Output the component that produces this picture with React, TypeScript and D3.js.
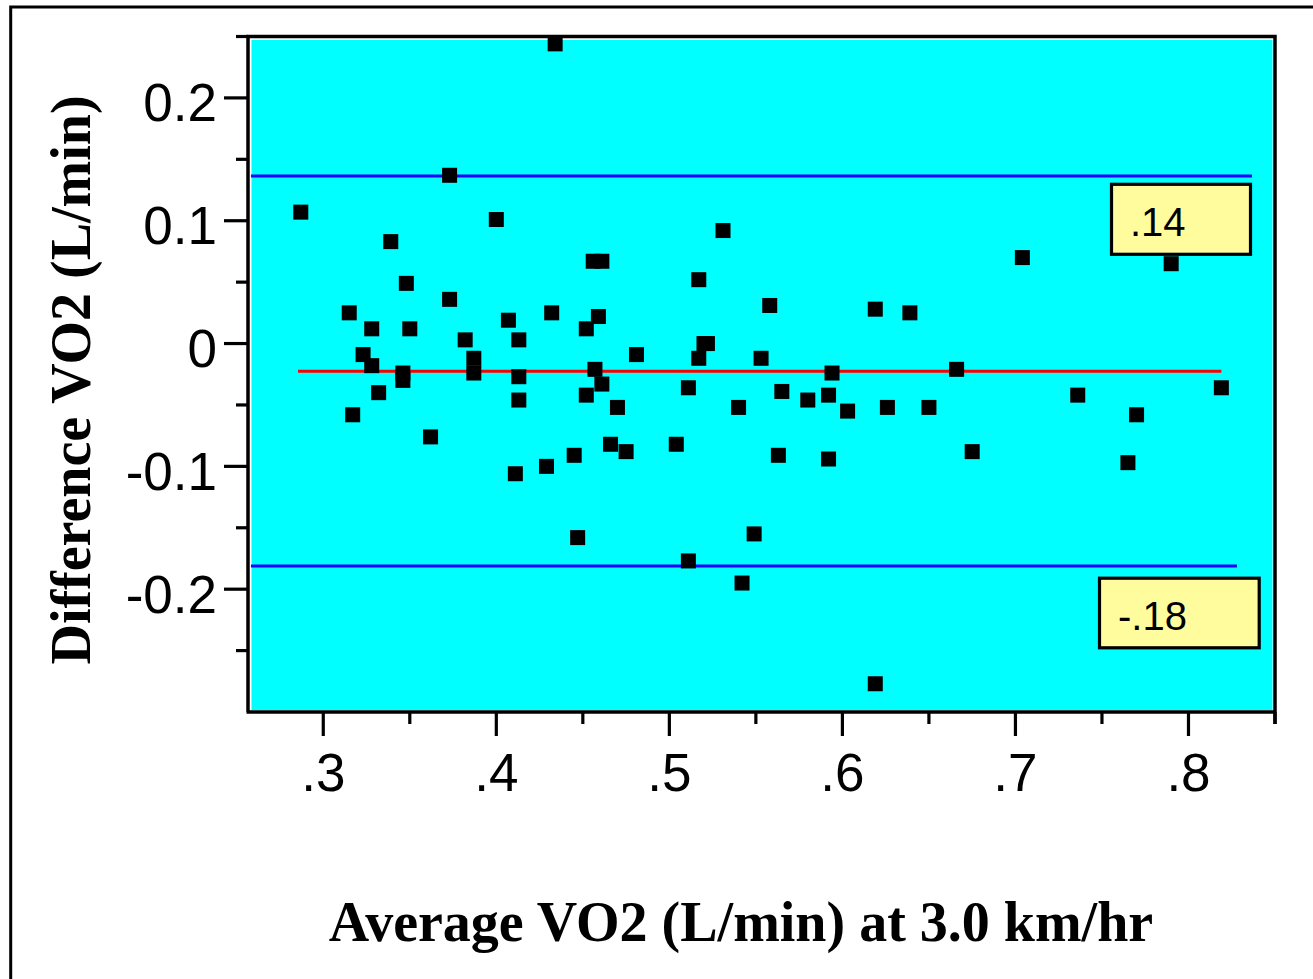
import * as d3 from 'd3';

// Bland-Altman style data
const avgVO2 = [
  0.287, 0.434, 0.373, 0.400, 0.339, 0.456, 0.461, 0.348, 0.373, 0.315,
  0.407, 0.432, 0.459, 0.328, 0.350, 0.452, 0.382, 0.413, 0.481, 0.323,
  0.328, 0.387, 0.387, 0.346, 0.346, 0.332, 0.317, 0.362, 0.411, 0.429,
  0.445, 0.447, 0.452, 0.461, 0.457, 0.470, 0.466, 0.475, 0.504, 0.413,
  0.413, 0.558, 0.619, 0.639, 0.520, 0.522, 0.517, 0.553, 0.594, 0.666,
  0.511, 0.540, 0.565, 0.580, 0.592, 0.603, 0.626, 0.650, 0.563, 0.592,
  0.675, 0.549, 0.511, 0.542, 0.619, 0.531, 0.517, 0.704, 0.790, 0.736,
  0.770, 0.765, 0.819,
];
const diffVO2 = [
  0.107, 0.244, 0.137, 0.101, 0.083, 0.067, 0.067, 0.049, 0.036, 0.025,
  0.019, 0.025, 0.022, 0.012, 0.012, 0.012, 0.003, 0.003, -0.009, -0.009,
  -0.018, -0.012, -0.024, -0.024, -0.030, -0.040, -0.058, -0.076, -0.106, -0.100,
  -0.091, -0.158, -0.042, -0.033, -0.021, -0.052, -0.082, -0.088, -0.082, -0.027,
  -0.046, 0.031, 0.028, 0.025, 0.000, 0.000, -0.012, -0.012, -0.024, -0.021,
  -0.036, -0.052, -0.039, -0.046, -0.042, -0.055, -0.052, -0.052, -0.091, -0.094,
  -0.088, -0.155, -0.177, -0.195, -0.277, 0.092, 0.052, 0.070, 0.065, -0.042,
  -0.058, -0.097, -0.036,
];

const meanDiff = -0.0225;
const upperLimit = 0.1364;
const lowerLimit = -0.1812;
const meanSpan = [0.2854, 0.819];
const upperSpan = [0.2582, 0.8367];
const lowerSpan = [0.2582, 0.828];
const upperLabel = '.14';
const lowerLabel = '-.18';

const yMajor = [0.2, 0.1, 0, -0.1, -0.2];
const yMinor = [0.25, 0.15, 0.05, -0.05, -0.15, -0.25];
const xMajor = [0.3, 0.4, 0.5, 0.6, 0.7, 0.8];
const xMinor = [0.35, 0.45, 0.55, 0.65, 0.75, 0.85];

const W = 1313;
const H = 979;
const sans = '"Liberation Sans", Arial, sans-serif';
const serif = '"Liberation Serif", "Times New Roman", serif';

export default function App() {
  const x = d3.scaleLinear().domain([0.2565, 0.85]).range([248, 1275]);
  const y = d3.scaleLinear().domain([-0.3, 0.25]).range([712, 36.5]);

  const left = x(0.2565);
  const right = x(0.85);
  const top = y(0.25);
  const bottom = y(-0.3);

  // plain hyphen for the minus, like the original
  const yFmt = (v: number) => (v === 0 ? '0' : d3.format('.1f')(v).replace('\u2212', '-'));
  const xFmt = (v: number) => d3.format('.1f')(v).replace(/^0/, '');

  const hLine = (v: number, span: number[], color: string) => (
    <line x1={x(span[0])} x2={x(span[1])} y1={y(v)} y2={y(v)} stroke={color} strokeWidth={3} />
  );

  return (
    <svg width={W} height={H} style={{ position: 'absolute', left: 0, top: 0, display: 'block' }}>
      <rect width={W} height={H} fill="#fff" />
      {/* outer frame, runs off the page on right and bottom */}
      <rect x={10.7} y={7} width={W + 40} height={H + 40} fill="none" stroke="#000" strokeWidth={3} />

      {/* plot area */}
      <rect x={left + 3.5} y={top + 3.5} width={right - left - 6} height={bottom - top - 5.5} fill="#00FFFF" />

      {hLine(upperLimit, upperSpan, '#2000FF')}
      {hLine(lowerLimit, lowerSpan, '#2000FF')}
      {hLine(meanDiff, meanSpan, '#FF0000')}

      {/* frame */}
      <path
        d={`M${left},${bottom} V${top} H${right} V${bottom + 12} M${left - 1.5},${bottom} H${right + 1.5}`}
        fill="none"
        stroke="#000"
        strokeWidth={3.5}
      />

      {/* y ticks */}
      {yMajor.map(v => (
        <g key={'ym' + v}>
          <line x1={left - 24} x2={left} y1={y(v)} y2={y(v)} stroke="#000" strokeWidth={3.2} />
          <text x={217} y={y(v) + 23.5} textAnchor="end" fontFamily={sans} fontSize={53}>
            {yFmt(v)}
          </text>
        </g>
      ))}
      {yMinor.map(v => (
        <line key={'yn' + v} x1={left - 12} x2={left} y1={y(v)} y2={y(v)} stroke="#000" strokeWidth={3.2} />
      ))}

      {/* x ticks */}
      {xMajor.map(v => (
        <g key={'xm' + v}>
          <line x1={x(v)} x2={x(v)} y1={bottom} y2={bottom + 24} stroke="#000" strokeWidth={3.2} />
          <text x={x(v)} y={791} textAnchor="middle" fontFamily={sans} fontSize={53}>
            {xFmt(v)}
          </text>
        </g>
      ))}
      {xMinor.map(v => (
        <line key={'xn' + v} x1={x(v)} x2={x(v)} y1={bottom} y2={bottom + 12} stroke="#000" strokeWidth={3.2} />
      ))}

      {/* points */}
      {avgVO2.map((a, i) => (
        <rect key={i} x={x(a) - 7.5} y={y(diffVO2[i]) - 7.5} width={15} height={15} fill="#000" />
      ))}

      {/* limit labels */}
      <rect x={1111.5} y={184.3} width={139} height={70} fill="#FFFC9E" stroke="#000" strokeWidth={3.2} />
      <text x={1130} y={236} fontFamily={sans} fontSize={40}>{upperLabel}</text>
      <rect x={1099.5} y={578.2} width={159.7} height={69.6} fill="#FFFC9E" stroke="#000" strokeWidth={3.2} />
      <text x={1118} y={630} fontFamily={sans} fontSize={40}>{lowerLabel}</text>

      {/* axis titles */}
      <text
        transform="translate(90,380) rotate(-90)"
        textAnchor="middle"
        fontFamily={serif}
        fontWeight="bold"
        fontSize={56}
      >
        Difference VO2 (L/min)
      </text>
      <text x={741} y={941} textAnchor="middle" fontFamily={serif} fontWeight="bold" fontSize={56}>
        Average VO2 (L/min) at 3.0 km/hr
      </text>
    </svg>
  );
}
